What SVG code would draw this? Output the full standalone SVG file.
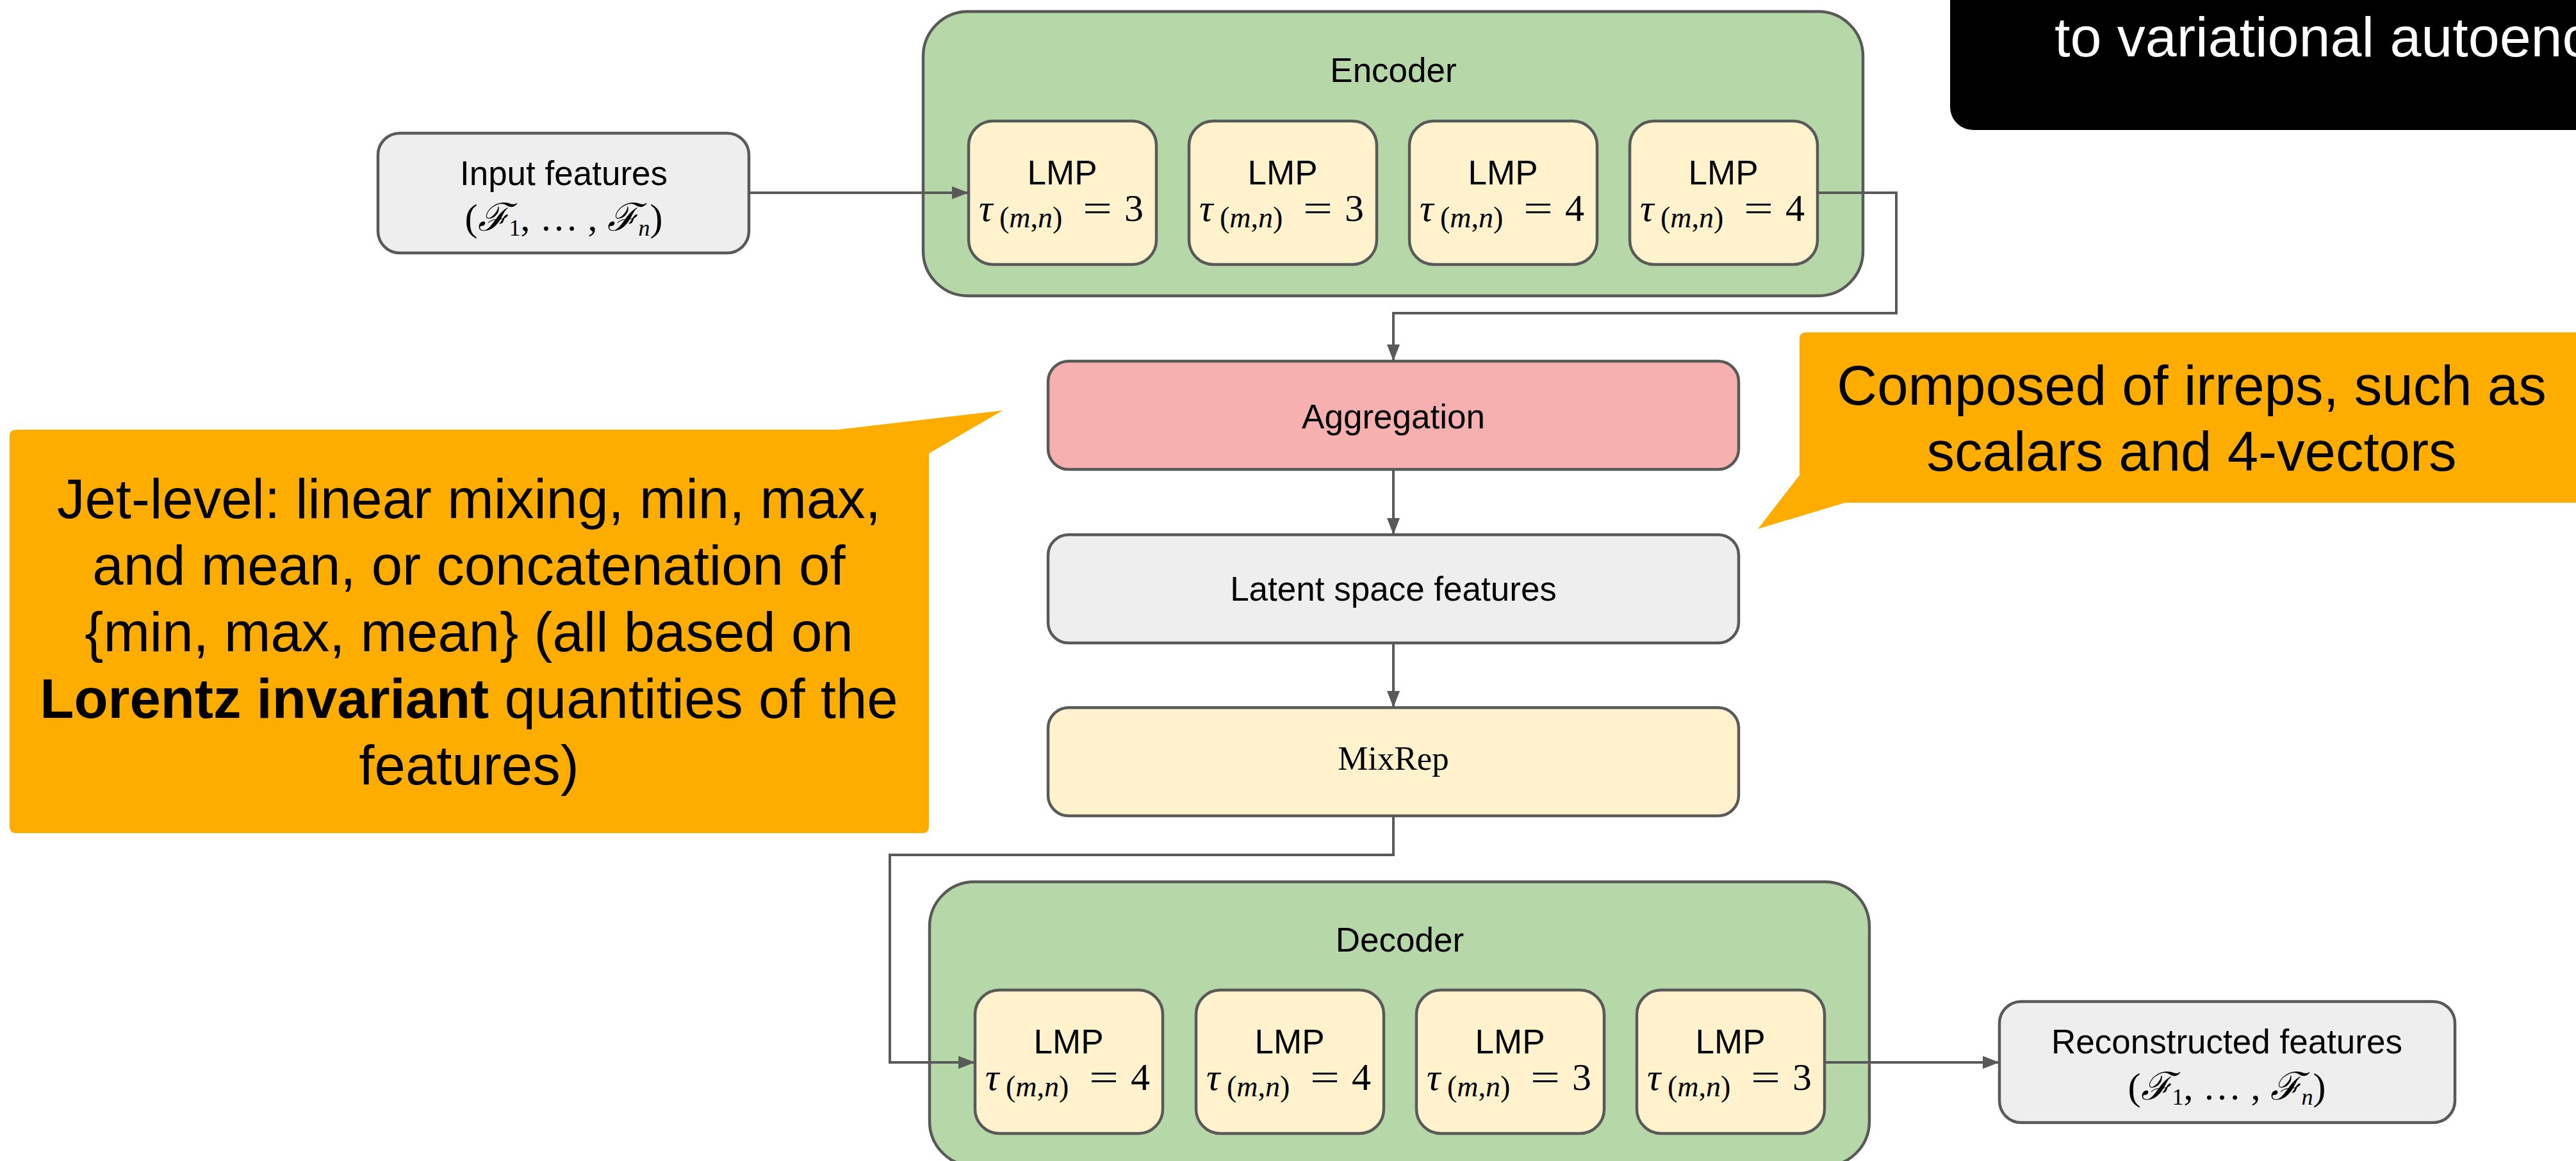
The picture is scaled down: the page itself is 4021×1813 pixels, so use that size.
<svg xmlns="http://www.w3.org/2000/svg" width="4021" height="1813" viewBox="0 0 4021 1813">
<defs>
<style>
.box{stroke:#595959;stroke-width:4.5}
.grey{fill:#eeeeee}
.green{fill:#b6d7a8}
.yellow{fill:#fff2cc}
.pink{fill:#f6b0b0}
.lbl{font-family:"Liberation Sans",Arial,sans-serif;font-size:53px;fill:#000;text-anchor:middle}
.math{font-family:"Liberation Serif","Times New Roman",serif;font-size:60px;fill:#000}
.it{font-style:italic}
.cal{font-family:"DejaVu Serif","Liberation Serif",serif;font-style:italic}
.eq{font-family:"Liberation Serif","Times New Roman",serif;font-size:60px}
.num{font-size:60px}
.conn{fill:none;stroke:#595959;stroke-width:4}
.call{fill:#fcad00}
.ct{font-family:"Liberation Sans",Arial,sans-serif;font-size:87px;fill:#000;text-anchor:middle}
</style>
<marker id="arr" markerUnits="userSpaceOnUse" markerWidth="26" markerHeight="20" viewBox="0 0 26 20" refX="26" refY="10" orient="auto">
<path d="M0,0 L26,10 L0,20 Z" fill="#595959"/>
</marker>
</defs>
<rect width="4021" height="1813" fill="#ffffff"/>

<g id="title-box">
<rect x="3044" y="-40" width="1100" height="243" rx="36" fill="#000000"/>
<text x="3207" y="88" font-family="'Liberation Sans',Arial,sans-serif" font-size="88" fill="#ffffff">to variational autoenc</text>
</g>

<g id="input-features">
<rect class="box grey" x="590" y="208" width="579" height="187" rx="34"/>
<text class="lbl" x="880" y="289">Input features</text>
<text class="math" x="880" y="360" text-anchor="middle" font-size="52">(<tspan class="cal">ℱ</tspan><tspan font-size="36" dy="8">1</tspan><tspan dy="-8">, … , </tspan><tspan class="cal">ℱ</tspan><tspan class="it" font-size="36" dy="8">n</tspan><tspan dy="-8">)</tspan></text>
</g>

<g id="encoder">
<rect class="box green" x="1441" y="18" width="1467" height="444" rx="70"/>
<text class="lbl" x="2175" y="128">Encoder</text>
</g>

<g id="enc-lmp1">
<rect class="box yellow" x="1512" y="189" width="293" height="224" rx="38"/>
<text class="lbl" x="1658" y="288">LMP</text>
<text class="math" y="345"><tspan class="it" x="1528">τ</tspan><tspan x="1560" y="355" font-size="46">(<tspan class="it">m</tspan>,<tspan class="it">n</tspan>)</tspan><tspan class="eq" x="1690" y="345" textLength="46" lengthAdjust="spacingAndGlyphs">=</tspan><tspan class="num" x="1755" y="345">3</tspan></text>
</g>
<g id="enc-lmp2">
<rect class="box yellow" x="1856" y="189" width="293" height="224" rx="38"/>
<text class="lbl" x="2002" y="288">LMP</text>
<text class="math" y="345"><tspan class="it" x="1872">τ</tspan><tspan x="1904" y="355" font-size="46">(<tspan class="it">m</tspan>,<tspan class="it">n</tspan>)</tspan><tspan class="eq" x="2034" y="345" textLength="46" lengthAdjust="spacingAndGlyphs">=</tspan><tspan class="num" x="2099" y="345">3</tspan></text>
</g>
<g id="enc-lmp3">
<rect class="box yellow" x="2200" y="189" width="293" height="224" rx="38"/>
<text class="lbl" x="2346" y="288">LMP</text>
<text class="math" y="345"><tspan class="it" x="2216">τ</tspan><tspan x="2248" y="355" font-size="46">(<tspan class="it">m</tspan>,<tspan class="it">n</tspan>)</tspan><tspan class="eq" x="2378" y="345" textLength="46" lengthAdjust="spacingAndGlyphs">=</tspan><tspan class="num" x="2443" y="345">4</tspan></text>
</g>
<g id="enc-lmp4">
<rect class="box yellow" x="2544" y="189" width="293" height="224" rx="38"/>
<text class="lbl" x="2690" y="288">LMP</text>
<text class="math" y="345"><tspan class="it" x="2560">τ</tspan><tspan x="2592" y="355" font-size="46">(<tspan class="it">m</tspan>,<tspan class="it">n</tspan>)</tspan><tspan class="eq" x="2722" y="345" textLength="46" lengthAdjust="spacingAndGlyphs">=</tspan><tspan class="num" x="2787" y="345">4</tspan></text>
</g>

<g id="aggregation">
<rect class="box pink" x="1636" y="564" width="1078" height="169" rx="32"/>
<text class="lbl" x="2175" y="669">Aggregation</text>
</g>

<g id="latent">
<rect class="box grey" x="1636" y="835" width="1078" height="169" rx="32"/>
<text class="lbl" x="2175" y="938">Latent space features</text>
</g>

<g id="mixrep">
<rect class="box yellow" x="1636" y="1105" width="1078" height="169" rx="32"/>
<text x="2175" y="1202" text-anchor="middle" font-family="'Liberation Serif','Times New Roman',serif" font-size="53">MixRep</text>
</g>

<g id="decoder">
<rect class="box green" x="1451" y="1377" width="1467" height="444" rx="70"/>
<text class="lbl" x="2185" y="1486">Decoder</text>
</g>

<g id="dec-lmp1">
<rect class="box yellow" x="1522" y="1546" width="293" height="224" rx="38"/>
<text class="lbl" x="1668" y="1645">LMP</text>
<text class="math" y="1702"><tspan class="it" x="1538">τ</tspan><tspan x="1570" y="1712" font-size="46">(<tspan class="it">m</tspan>,<tspan class="it">n</tspan>)</tspan><tspan class="eq" x="1700" y="1702" textLength="46" lengthAdjust="spacingAndGlyphs">=</tspan><tspan class="num" x="1765" y="1702">4</tspan></text>
</g>
<g id="dec-lmp2">
<rect class="box yellow" x="1867" y="1546" width="293" height="224" rx="38"/>
<text class="lbl" x="2013" y="1645">LMP</text>
<text class="math" y="1702"><tspan class="it" x="1883">τ</tspan><tspan x="1915" y="1712" font-size="46">(<tspan class="it">m</tspan>,<tspan class="it">n</tspan>)</tspan><tspan class="eq" x="2045" y="1702" textLength="46" lengthAdjust="spacingAndGlyphs">=</tspan><tspan class="num" x="2110" y="1702">4</tspan></text>
</g>
<g id="dec-lmp3">
<rect class="box yellow" x="2211" y="1546" width="293" height="224" rx="38"/>
<text class="lbl" x="2357" y="1645">LMP</text>
<text class="math" y="1702"><tspan class="it" x="2227">τ</tspan><tspan x="2259" y="1712" font-size="46">(<tspan class="it">m</tspan>,<tspan class="it">n</tspan>)</tspan><tspan class="eq" x="2389" y="1702" textLength="46" lengthAdjust="spacingAndGlyphs">=</tspan><tspan class="num" x="2454" y="1702">3</tspan></text>
</g>
<g id="dec-lmp4">
<rect class="box yellow" x="2555" y="1546" width="293" height="224" rx="38"/>
<text class="lbl" x="2701" y="1645">LMP</text>
<text class="math" y="1702"><tspan class="it" x="2571">τ</tspan><tspan x="2603" y="1712" font-size="46">(<tspan class="it">m</tspan>,<tspan class="it">n</tspan>)</tspan><tspan class="eq" x="2733" y="1702" textLength="46" lengthAdjust="spacingAndGlyphs">=</tspan><tspan class="num" x="2798" y="1702">3</tspan></text>
</g>

<g id="reconstructed">
<rect class="box grey" x="3121" y="1564" width="711" height="189" rx="34"/>
<text class="lbl" x="3476" y="1645">Reconstructed features</text>
<text class="math" x="3476" y="1717" text-anchor="middle" font-size="52">(<tspan class="cal">ℱ</tspan><tspan font-size="36" dy="8">1</tspan><tspan dy="-8">, … , </tspan><tspan class="cal">ℱ</tspan><tspan class="it" font-size="36" dy="8">n</tspan><tspan dy="-8">)</tspan></text>
</g>

<g id="connectors">
<path class="conn" d="M1169,301 L1512,301" marker-end="url(#arr)"/>
<path class="conn" d="M2837,301 L2960,301 L2960,489 L2175,489 L2175,564" marker-end="url(#arr)"/>
<path class="conn" d="M2175,733 L2175,835" marker-end="url(#arr)"/>
<path class="conn" d="M2175,1004 L2175,1105" marker-end="url(#arr)"/>
<path class="conn" d="M2175,1274 L2175,1335 L1389,1335 L1389,1659 L1522,1659" marker-end="url(#arr)"/>
<path class="conn" d="M2848,1659 L3121,1659" marker-end="url(#arr)"/>
</g>

<g id="callout-left">
<path class="call" d="M25,671 L1307,671 L1565,641 L1450,708 L1450,1291 Q1450,1301 1440,1301 L25,1301 Q15,1301 15,1291 L15,681 Q15,671 25,671 Z"/>
<text class="ct" x="732" y="809">Jet-level: linear mixing, min, max,</text>
<text class="ct" x="732" y="913">and mean, or concatenation of</text>
<text class="ct" x="732" y="1017">{min, max, mean} (all based on</text>
<text class="ct" x="732" y="1121"><tspan font-weight="bold">Lorentz invariant</tspan> quantities of the</text>
<text class="ct" x="732" y="1225">features)</text>
</g>

<g id="callout-right">
<path class="call" d="M2809,742 L2809,529 Q2809,519 2819,519 L4040,519 L4040,785 L2880,785 L2744,826 Z"/>
<text class="ct" x="3421" y="632">Composed of irreps, such as</text>
<text class="ct" x="3421" y="735">scalars and 4-vectors</text>
</g>
</svg>
